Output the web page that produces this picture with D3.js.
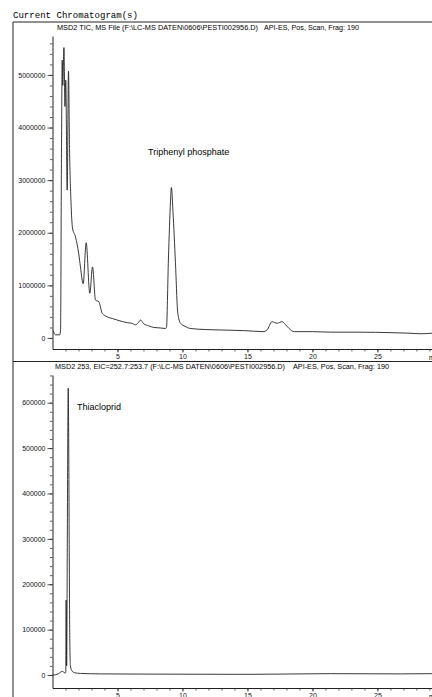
<!DOCTYPE html>
<html>
<head>
<meta charset="utf-8">
<script src="https://cdn.jsdelivr.net/npm/d3@7"></script>
<style>
  body { margin: 0; background: #fff; }
  svg { display: block; }
</style>
</head>
<body>
<div id="chartContainer"></div>
<script>
// TIC trace (top panel), time in min, abundance in counts
const tic_time = [0.05, 0.23, 0.56, 0.62, 0.69, 0.75, 0.79, 0.88, 0.96, 1.02, 1.13, 1.23, 1.31, 1.42,
  1.54, 1.77, 2.02, 2.15, 2.36, 2.59, 2.87, 3.08, 3.31, 3.56, 3.82, 4.0, 4.21, 4.6, 4.98, 5.4, 5.75,
  6.1, 6.38, 6.6, 6.77, 7.02, 7.4, 7.79, 8.3, 8.69, 8.77, 8.92, 9.08, 9.15, 9.27, 9.46, 9.64, 9.85,
  10.2, 10.6, 11.8, 13.2, 14.7, 16.2, 16.5, 16.9, 17.1, 17.3, 17.67, 17.9, 18.2, 18.6, 20.0, 21.4,
  23.5, 26.2, 27.5, 28.3, 29.2];
const tic_abund = [140000, 60000, 60000, 150000, 3500000, 5280000, 4800000, 5520000, 4400000, 4900000,
  2810000, 5070000, 3600000, 2600000, 2090000, 1920000, 1600000, 1350000, 1030000, 1810000, 850000,
  1350000, 720000, 690000, 470000, 430000, 400000, 370000, 340000, 310000, 290000, 280000, 250000,
  290000, 340000, 270000, 230000, 200000, 190000, 180000, 200000, 1500000, 2600000, 2860000,
  2400000, 1430000, 470000, 280000, 220000, 180000, 160000, 150000, 140000, 120000, 150000, 310000,
  290000, 280000, 310000, 260000, 180000, 120000, 120000, 110000, 110000, 100000, 90000, 80000, 90000];

// EIC 252.7:253.7 trace (bottom panel)
const eic_time = [0.0, 0.23, 0.46, 0.75, 0.85, 0.95, 1.02, 1.05, 1.09, 1.14, 1.18, 1.21, 1.25, 1.29,
  1.33, 1.38, 1.5, 1.7, 2.15, 3.7, 7.5, 15.2, 21.4, 26.8, 29.2];
const eic_abund = [0, 500, 3000, 8000, 7000, 4000, 6000, 165000, 20000, 300000, 545000, 632000,
  500000, 260000, 80000, 20000, 9000, 5000, 3500, 2500, 2000, 1500, 3000, 2500, 3000];

// tick values
const x_ticks = [5, 10, 15, 20, 25];
const tic_y_ticks = [0, 1000000, 2000000, 3000000, 4000000, 5000000];
const eic_y_ticks = [0, 100000, 200000, 300000, 400000, 500000, 600000];

const headers = [
  ["MSD2 TIC, MS File (F:\\LC-MS DATEN\\0606\\PESTI002956.D)", "API-ES, Pos, Scan, Frag: 190"],
  ["MSD2 253, EIC=252.7:253.7 (F:\\LC-MS DATEN\\0606\\PESTI002956.D)", "API-ES, Pos, Scan, Frag: 190"]
];
const peak_labels = ["Triphenyl phosphate", "Thiacloprid"];

// page size
let BOX_WIDTH = 432;
let BOX_HEIGHT = 697;
let FONT = "'Liberation Sans', Arial, sans-serif";

const svg = d3.select("#chartContainer")
    .append("svg")
    .attr("width", BOX_WIDTH)
    .attr("height", BOX_HEIGHT);

// frame lines
svg.append("line").attr("x1", 13).attr("x2", 13).attr("y1", 22).attr("y2", BOX_HEIGHT)
    .attr("stroke", "#222").attr("stroke-width", 1);
svg.append("line").attr("x1", 13).attr("x2", BOX_WIDTH).attr("y1", 22).attr("y2", 22)
    .attr("stroke", "#222").attr("stroke-width", 1);
svg.append("line").attr("x1", 13).attr("x2", BOX_WIDTH).attr("y1", 361.5).attr("y2", 361.5)
    .attr("stroke", "#222").attr("stroke-width", 1);

svg.append("text")
    .attr("x", 13).attr("y", 18)
    .attr("font-family", "'Liberation Mono', 'DejaVu Sans Mono', monospace")
    .attr("font-size", 9)
    .attr("textLength", 125).attr("lengthAdjust", "spacingAndGlyphs")
    .text("Current Chromatogram(s)");

const xScale = d3.scaleLinear()
    .domain([0, 29.2])
    .range([52.5, 432]);

// one panel per trace
const panels = [
  { time: tic_time, abund: tic_abund, yticks: tic_y_ticks, minor: 200000,
    ydomain: [-210000, 5740000], yrange: [349, 36], header: headers[0], hy: 30,
    hx: [57, 264], hw: [201, 95], label: peak_labels[0], lx: 148, ly: 155 },
  { time: eic_time, abund: eic_abund, yticks: eic_y_ticks, minor: 20000,
    ydomain: [-28600, 661000], yrange: [688, 375], header: headers[1], hy: 368.5,
    hx: [55, 293], hw: [230, 96], label: peak_labels[1], lx: 77, ly: 410 }
];

panels.forEach(p => {
    const yScale = d3.scaleLinear().domain(p.ydomain).range(p.yrange);

    // minor ticks
    const yMinor = d3.range(0, p.ydomain[1], p.minor);
    svg.append("g")
        .attr("transform", "translate(52.5, 0)")
        .call(d3.axisLeft(yScale).tickValues(yMinor).tickSize(2.5).tickSizeOuter(0).tickFormat(""))
        .call(g => g.selectAll("line").attr("stroke", "#333").attr("stroke-width", 0.8))
        .call(g => g.select(".domain").attr("stroke", "#222"));

    svg.append("g")
        .attr("transform", "translate(52.5, 0)")
        .call(d3.axisLeft(yScale).tickValues(p.yticks).tickSize(5).tickPadding(2).tickSizeOuter(0)
            .tickFormat(d3.format("d")))
        .call(g => g.select(".domain").remove())
        .call(g => g.selectAll("line").attr("stroke", "#222").attr("stroke-width", 0.8))
        .call(g => g.selectAll("text").attr("font-family", FONT).attr("font-size", 7).attr("fill", "#111"));

    const xBase = p.yrange[0];
    svg.append("g")
        .attr("transform", `translate(0, ${xBase})`)
        .call(d3.axisBottom(xScale).tickValues(d3.range(1, 30, 1)).tickSize(2.5).tickSizeOuter(0).tickFormat(""))
        .call(g => g.selectAll("line").attr("stroke", "#333").attr("stroke-width", 0.8))
        .call(g => g.select(".domain").attr("stroke", "#222"));

    svg.append("g")
        .attr("transform", `translate(0, ${xBase})`)
        .call(d3.axisBottom(xScale).tickValues(x_ticks).tickSize(3.5).tickPadding(2).tickSizeOuter(0))
        .call(g => g.select(".domain").remove())
        .call(g => g.selectAll("line").attr("stroke", "#222").attr("stroke-width", 0.8))
        .call(g => g.selectAll("text").attr("font-family", FONT).attr("font-size", 7).attr("fill", "#111"));

    // axis unit at the cut-off right edge
    svg.append("text")
        .attr("x", 429).attr("y", xBase + 11)
        .attr("font-family", FONT).attr("font-size", 7)
        .text("min");

    // header line
    p.header.forEach((h, i) => {
        svg.append("text")
            .attr("x", p.hx[i]).attr("y", p.hy)
            .attr("font-family", FONT).attr("font-size", 6.6)
            .attr("textLength", p.hw[i]).attr("lengthAdjust", "spacingAndGlyphs")
            .text(h);
    });

    // trace
    const line = d3.line()
        .x((d, i) => xScale(p.time[i]))
        .y(d => yScale(d))
        .curve(d3.curveMonotoneX);

    svg.append("path")
        .datum(p.abund)
        .attr("fill", "none")
        .attr("stroke", "#222")
        .attr("stroke-width", 0.9)
        .attr("stroke-linejoin", "round")
        .attr("d", line);

    svg.append("text")
        .attr("x", p.lx).attr("y", p.ly)
        .attr("font-family", FONT).attr("font-size", 9)
        .text(p.label);
});
</script>
</body>
</html>
